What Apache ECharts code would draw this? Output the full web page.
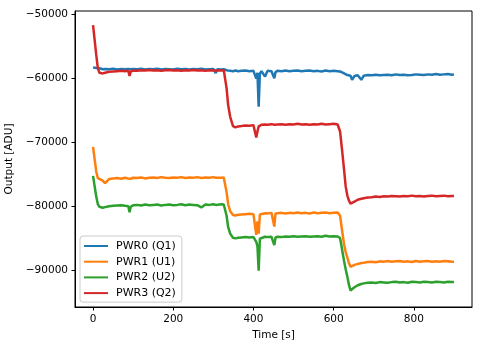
<!DOCTYPE html>
<html>
<head>
<meta charset="utf-8">
<script src="https://cdn.jsdelivr.net/npm/echarts@6/dist/echarts.min.js"></script>
<style>
html,body{margin:0;padding:0;background:#fff;}
#chart{width:483px;height:347px;}
</style>
</head>
<body>
<div id="chart"></div>
<script>
// Time samples [s]
const time = [
  0,3,8,12,16,24,30,
  40,50,60,70,80,88,91,94,100,
  110,120,130,140,150,160,170,180,190,200,210,220,230,240,250,260,270,280,290,300,
  306,310,320,326,329,333,337,342,349,355,362,370,380,390,400,
  404,407,410,413,416,420,429,435,445,452,455,460,
  470,480,490,500,510,520,530,540,550,560,570,580,590,600,610,
  613,616,621,626,630,634,638,642,646,652,660,669,675,
  685,695,705,715,725,735,745,755,765,775,785,795,805,815,825,835,845,855,865,875,885,895,
  900
];

const seriesNames = ['PWR0 (Q1)', 'PWR1 (U1)', 'PWR2 (U2)', 'PWR3 (Q2)'];

const pwr0 = [
  -58250,-58300,-58350,-58450,-58400,-58550,-58500,
  -58550,-58450,-58600,-58500,-58550,-58500,-58600,-58550,-58500,
  -58550,-58450,-58600,-58500,-58550,-58450,-58600,-58500,-58550,-58600,-58450,-58550,-58500,-58600,-58500,-58550,-58450,-58600,-58550,-58500,
  -59150,-58550,-58600,-58550,-58600,-58700,-58750,-58800,-58850,-58750,-58850,-58800,-58750,-58850,-58800,
  -59000,-60000,-59100,-64400,-59200,-58850,-59700,-58800,-58850,-59950,-59000,-58800,
  -58850,-58750,-58850,-58800,-58750,-58850,-58800,-58750,-58850,-58800,-58900,-58750,-58850,-58800,-58850,
  -58850,-58900,-59050,-59200,-59350,-59450,-59500,-59550,-60200,-59600,-59500,-60200,-59550,
  -59450,-59500,-59400,-59500,-59450,-59400,-59500,-59350,-59450,-59400,-59500,-59450,-59350,-59400,-59450,-59350,-59400,-59300,-59400,-59350,-59300,-59400,
  -59350
];

const pwr1 = [
  -70700,-70950,-74600,-75600,-75900,-76000,-76400,
  -75750,-75650,-75600,-75700,-75550,-75650,-75600,-75700,-75550,
  -75600,-75500,-75650,-75550,-75500,-75600,-75450,-75550,-75600,-75500,-75550,-75450,-75600,-75500,-75550,-75450,-75600,-75500,-75550,-75450,
  -75550,-75500,-75550,-75500,-75600,-77800,-79700,-80800,-81400,-81450,-81350,-81300,-81250,-81200,-81250,
  -81300,-84500,-82400,-84300,-81300,-81150,-81100,-81150,-81050,-83200,-81150,-81100,
  -81050,-81150,-81050,-81100,-81000,-81100,-81050,-81150,-81000,-81100,-81050,-81000,-81100,-81050,-81000,
  -81100,-81500,-83800,-86000,-87200,-88000,-88900,-89500,-89350,-89200,-89050,-88900,-88850,
  -88750,-88700,-88800,-88650,-88700,-88600,-88700,-88650,-88600,-88700,-88650,-88750,-88600,-88700,-88650,-88600,-88700,-88650,-88700,-88600,-88650,-88700,
  -88700
];

const pwr2 = [
  -75250,-75500,-78500,-79700,-80100,-80250,-80150,
  -80000,-79950,-79900,-79850,-79950,-80000,-80950,-80100,-79850,
  -79800,-79900,-79750,-79850,-79800,-79750,-79900,-79800,-79750,-79850,-79800,-79700,-79850,-79750,-79800,-79850,-80200,-79750,-79800,-79700,
  -79800,-79750,-79700,-79750,-79800,-81500,-83300,-84300,-84950,-85050,-84950,-84900,-84850,-84900,-84850,
  -84950,-85600,-86300,-90100,-85100,-84900,-84800,-84850,-84800,-86100,-84900,-84800,
  -84850,-84750,-84800,-84700,-84800,-84750,-84700,-84800,-84750,-84700,-84800,-84650,-84750,-84700,-84750,
  -84750,-85000,-86800,-88600,-89900,-91000,-92300,-93200,-93400,-92700,-92400,-92200,-92100,
  -92000,-91950,-92050,-91900,-91950,-92000,-91900,-91850,-91950,-91900,-92000,-91850,-91900,-91950,-91850,-91900,-91950,-91850,-91900,-91950,-91850,-91900,
  -91900
];

const pwr3 = [
  -51650,-51800,-56300,-58400,-59100,-59200,-59100,
  -58950,-58900,-58850,-58800,-58850,-58800,-59600,-58900,-58750,
  -58800,-58700,-58750,-58650,-58750,-58700,-58800,-58700,-58650,-58750,-58700,-58800,-58700,-58750,-58650,-58750,-58700,-58800,-58700,-58750,
  -58750,-58700,-58750,-58700,-58750,-61500,-64200,-66000,-67450,-67650,-67500,-67450,-67350,-67400,-67300,
  -67400,-69250,-68300,-67500,-67300,-67250,-67200,-67250,-67150,-67250,-67150,-67200,
  -67150,-67250,-67150,-67200,-67100,-67200,-67150,-67250,-67150,-67200,-67100,-67200,-67150,-67100,-67200,
  -67200,-68300,-71200,-74300,-76900,-78300,-79100,-79600,-79800,-79300,-79000,-78850,-78750,
  -78650,-78600,-78500,-78550,-78450,-78500,-78400,-78450,-78500,-78400,-78450,-78350,-78450,-78400,-78500,-78400,-78350,-78450,-78400,-78350,-78450,-78400,
  -78400
];

const xTicks = [0, 200, 400, 600, 800];
const yTicks = [-90000, -80000, -70000, -60000, -50000];

const values = [pwr0, pwr1, pwr2, pwr3];
values.forEach((v, i) => {
  if (v.length !== time.length) throw new Error('length mismatch in series ' + i + ': ' + v.length + ' vs ' + time.length);
});

const colors = ['#1f77b4', '#ff7f0e', '#2ca02c', '#d62728'];
const FONT = 'DejaVu Sans';
const minus = v => String(v).replace('-', '\u2212');

const chart = echarts.init(document.getElementById('chart'), null, {renderer: 'canvas'});
chart.setOption({
  animation: false,
  backgroundColor: '#fff',
  color: colors,
  textStyle: {fontFamily: FONT},
  grid: {
    left: 75, right: 11, top: 11, bottom: 40,
    outerBoundsMode: 'none',
    containLabel: false,
    show: true, borderColor: '#000', borderWidth: 1, backgroundColor: 'transparent'
  },
  legend: {
    orient: 'vertical',
    left: 80, top: 236,
    icon: 'rect',
    itemWidth: 24, itemHeight: 2,
    itemGap: 3.7,
    padding: [4, 6, 3, 4],
    borderColor: '#cccccc', borderWidth: 1, borderRadius: 3,
    backgroundColor: 'rgba(255,255,255,0.8)',
    textStyle: {fontFamily: FONT, fontSize: 11, color: '#000', lineHeight: 12, padding: [0, 0, 0, 3]},
    data: seriesNames
  },
  xAxis: {
    type: 'value',
    min: -45, max: 945,
    name: 'Time [s]',
    nameLocation: 'middle',
    nameGap: 20,
    nameTextStyle: {fontFamily: FONT, fontSize: 10.5, color: '#000'},
    axisLine: {show: true, onZero: false, lineStyle: {color: '#000', width: 1}},
    axisTick: {show: true, length: 3.5, lineStyle: {color: '#000'}, customValues: xTicks},
    axisLabel: {fontFamily: FONT, fontSize: 10.5, color: '#000', margin: 7, customValues: xTicks, formatter: minus},
    splitLine: {show: false}
  },
  yAxis: {
    type: 'value',
    min: -95800, max: -49420,
    name: 'Output [ADU]',
    nameLocation: 'middle',
    nameRotate: 90,
    nameGap: 51,
    nameTextStyle: {fontFamily: FONT, fontSize: 10.5, color: '#000'},
    axisLine: {show: true, onZero: false, lineStyle: {color: '#000', width: 1}},
    axisTick: {show: true, length: 3.5, lineStyle: {color: '#000'}, customValues: yTicks},
    axisLabel: {fontFamily: FONT, fontSize: 10.5, color: '#000', margin: 7, customValues: yTicks, formatter: minus},
    splitLine: {show: false}
  },
  series: values.map((v, i) => ({
    name: seriesNames[i],
    type: 'line',
    data: time.map((t, k) => [t, v[k]]),
    showSymbol: false,
    symbol: 'none',
    lineStyle: {width: 2.5, color: colors[i]},
    itemStyle: {color: colors[i]}
  }))
});
</script>
</body>
</html>
